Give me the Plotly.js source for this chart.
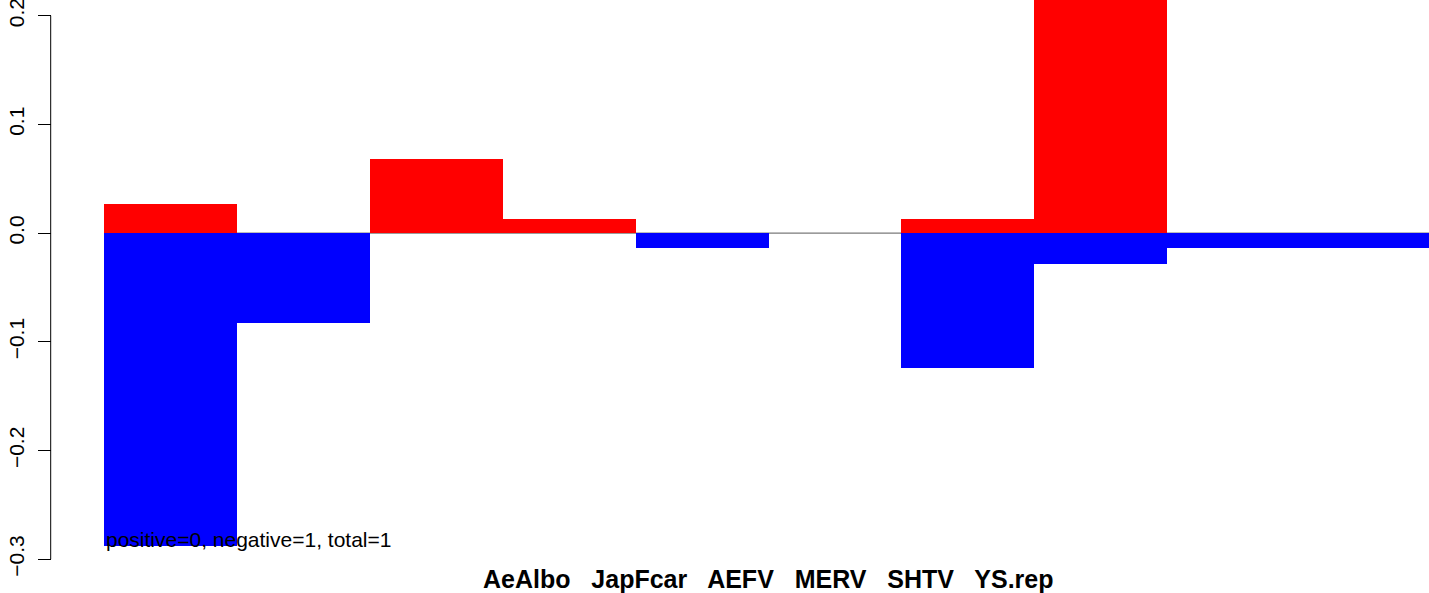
<!DOCTYPE html>
<html>
<head>
<meta charset="utf-8">
<script src="https://cdn.plot.ly/plotly-3.0.1.min.js"></script>
<style>
html,body{margin:0;padding:0;background:#fff;}
#chart{width:1429px;height:593px;}
</style>
</head>
<body>
<div id="chart"></div>
<script>
// Data
var positions = [1, 2, 3, 4, 5, 6, 7, 8, 9, 10];
var positiveValues = [0.027, 0, 0.068, 0.013, 0, 0, 0.013, 0.26, 0, 0];
var negativeValues = [-0.288, -0.083, 0, 0, -0.014, 0, -0.124, -0.028, -0.014, -0.014];
var tickValues = [-0.3, -0.2, -0.1, 0.0, 0.1, 0.2];
var tickLabels = ["\u22120.3", "\u22120.2", "\u22120.1", "0.0", "0.1", "0.2"];
var groupLabel = "AeAlbo\u00A0\u00A0 JapFcar\u00A0\u00A0 AEFV\u00A0\u00A0 MERV\u00A0\u00A0 SHTV\u00A0\u00A0 YS.rep";
var noteText = "positive=0, negative=1, total=1";

var FONT = "Liberation Sans, Arial, Helvetica, sans-serif";

var traces = [
  {type: "bar", x: positions, y: positiveValues, width: 1,
   marker: {color: "#ff0000", line: {width: 0}}, hoverinfo: "skip"},
  {type: "bar", x: positions, y: negativeValues, width: 1,
   marker: {color: "#0000ff", line: {width: 0}}, hoverinfo: "skip"}
];

var layout = {
  width: 1429, height: 593,
  margin: {l: 0, r: 0, t: 0, b: 0, pad: 0},
  paper_bgcolor: "#ffffff", plot_bgcolor: "#ffffff",
  showlegend: false,
  barmode: "relative",
  bargap: 0,
  font: {family: FONT, color: "#000000", size: 21},
  xaxis: {
    range: [0.5 - 104 / 132.9, 0.5 + 1325 / 132.9],
    showgrid: false, zeroline: false, showline: false,
    showticklabels: false, ticks: "", fixedrange: true
  },
  yaxis: {
    range: [-0.3311, 0.21445],
    anchor: "free", position: 50.7 / 1429, side: "left",
    showgrid: false, zeroline: false, showline: false,
    tickmode: "array", tickvals: tickValues, ticktext: tickLabels,
    ticks: "outside", ticklen: 13, tickwidth: 1, tickcolor: "#000000",
    tickangle: -90,
    ticklabeloverflow: "allow",
    ticklabelstandoff: 5,
    tickfont: {family: FONT, size: 21, color: "#000000"},
    fixedrange: true
  },
  shapes: [
    {type: "line", layer: "below", xref: "x", yref: "y",
     x0: 0.5, x1: 12, y0: 0, y1: 0,
     line: {color: "#7a7a7a", width: 1.3}},
    {type: "line", layer: "above", xref: "paper", yref: "y",
     x0: 50.7 / 1429, x1: 50.7 / 1429, y0: tickValues[0], y1: tickValues[tickValues.length - 1],
     line: {color: "#000000", width: 1}}
  ],
  annotations: [
    {xref: "x", yref: "y", x: 0.5, y: -0.2823, xanchor: "left", yanchor: "middle",
     text: noteText, showarrow: false,
     font: {family: FONT, size: 21, color: "#000000"}},
    {xref: "paper", yref: "y", x: 768 / 1429, y: -0.3185, xanchor: "center", yanchor: "middle",
     text: "<b>" + groupLabel + "</b>", showarrow: false,
     font: {family: FONT, size: 25, color: "#000000"}}
  ]
};

Plotly.newPlot("chart", traces, layout, {displayModeBar: false, staticPlot: true});
</script>
</body>
</html>
